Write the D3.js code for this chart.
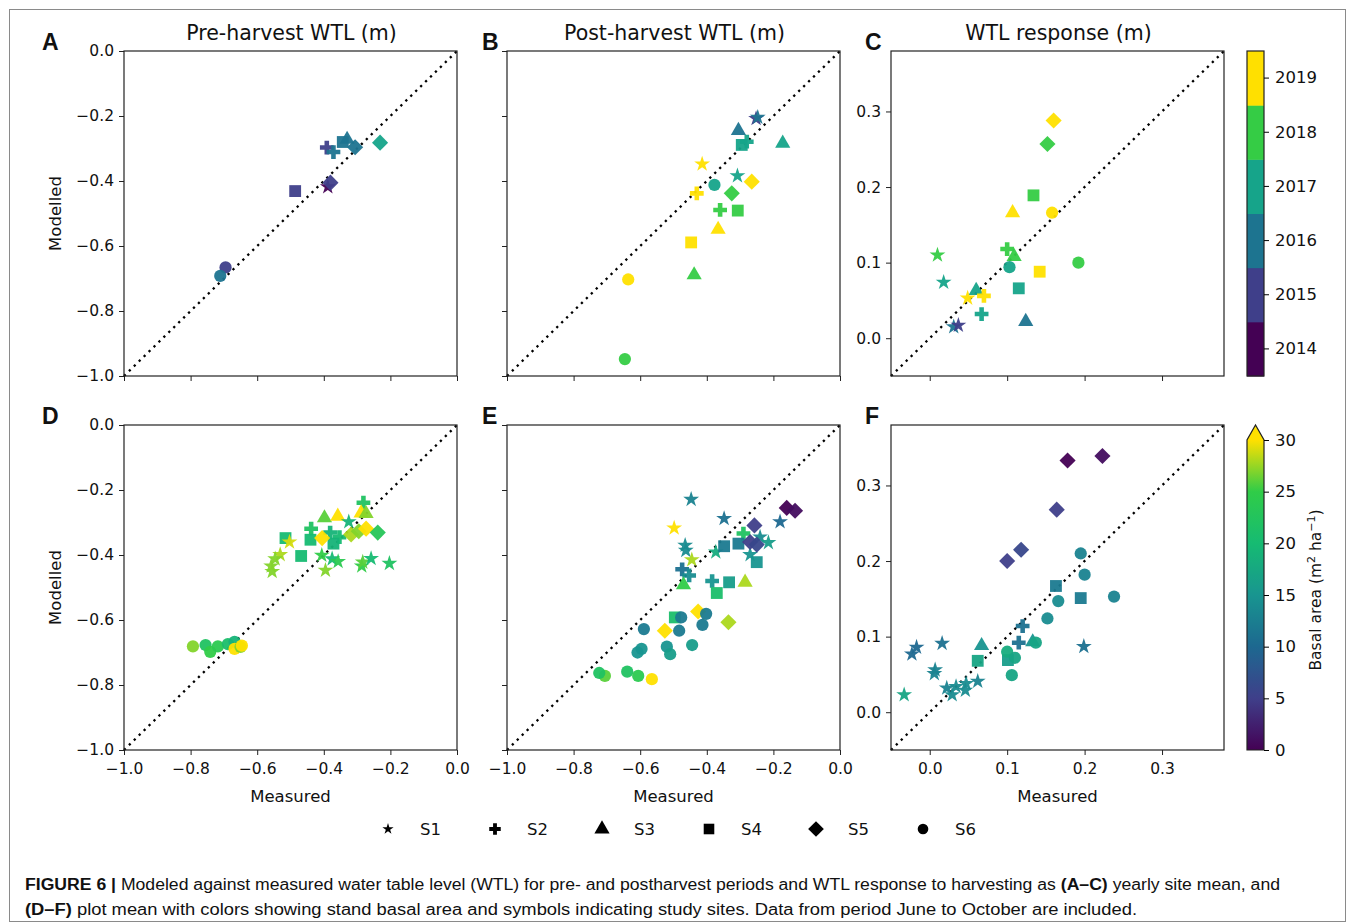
<!DOCTYPE html>
<html>
<head>
<meta charset="utf-8">
<script src="https://cdn.jsdelivr.net/npm/d3@7"></script>
<style>
  body { margin: 0; background: #fff; }
  text { font-family: "DejaVu Sans", sans-serif; fill: #111; }
</style>
</head>
<body>
<script>
// measured, modelled, site (1-6), year
panelA = [
  [-0.231, -0.282, 5, 2017], [-0.306, -0.296, 5, 2016], [-0.330, -0.272, 3, 2016],
  [-0.343, -0.280, 4, 2016], [-0.391, -0.297, 2, 2015], [-0.371, -0.311, 2, 2016],
  [-0.388, -0.418, 1, 2014], [-0.380, -0.405, 5, 2015], [-0.486, -0.431, 4, 2015],
  [-0.695, -0.666, 6, 2015], [-0.711, -0.692, 6, 2016]
];
panelB = [
  [-0.252, -0.208, 1, 2015], [-0.247, -0.204, 1, 2016], [-0.305, -0.245, 3, 2016],
  [-0.280, -0.279, 2, 2017], [-0.295, -0.289, 4, 2017], [-0.172, -0.284, 3, 2017],
  [-0.414, -0.348, 1, 2019], [-0.308, -0.384, 1, 2017], [-0.377, -0.412, 6, 2017],
  [-0.265, -0.402, 5, 2019], [-0.430, -0.438, 2, 2019], [-0.325, -0.438, 5, 2018],
  [-0.360, -0.489, 2, 2018], [-0.307, -0.491, 4, 2018], [-0.366, -0.549, 3, 2019],
  [-0.447, -0.589, 4, 2019], [-0.438, -0.689, 3, 2018], [-0.636, -0.703, 6, 2019],
  [-0.646, -0.948, 6, 2018]
];
panelC = [
  [0.160, 0.288, 5, 2019], [0.152, 0.257, 5, 2018], [0.134, 0.189, 4, 2018],
  [0.107, 0.166, 3, 2019], [0.158, 0.166, 6, 2019], [0.100, 0.118, 2, 2018],
  [0.109, 0.108, 3, 2018], [0.103, 0.094, 6, 2017], [0.192, 0.100, 6, 2018],
  [0.142, 0.088, 4, 2019], [0.115, 0.066, 4, 2017], [0.010, 0.110, 1, 2018],
  [0.018, 0.074, 1, 2017], [0.060, 0.063, 3, 2017], [0.070, 0.056, 2, 2019],
  [0.049, 0.053, 1, 2019], [0.067, 0.032, 2, 2017], [0.124, 0.022, 3, 2016],
  [0.031, 0.015, 1, 2016], [0.037, 0.017, 1, 2015]
];
// measured, modelled, site (1-6), basal area
panelD = [
  [-0.793, -0.681, 6, 27], [-0.755, -0.677, 6, 22], [-0.741, -0.698, 6, 25],
  [-0.718, -0.681, 6, 24], [-0.688, -0.674, 6, 21], [-0.668, -0.667, 6, 19],
  [-0.668, -0.689, 6, 30], [-0.650, -0.683, 6, 27], [-0.646, -0.679, 6, 30],
  [-0.281, -0.239, 2, 22], [-0.398, -0.286, 3, 26], [-0.358, -0.281, 3, 30],
  [-0.288, -0.271, 3, 30], [-0.273, -0.273, 3, 27], [-0.325, -0.298, 1, 19],
  [-0.438, -0.319, 2, 22], [-0.381, -0.331, 2, 19], [-0.353, -0.345, 2, 20],
  [-0.515, -0.348, 4, 20], [-0.440, -0.353, 4, 20], [-0.371, -0.365, 4, 19],
  [-0.468, -0.403, 4, 20], [-0.405, -0.348, 5, 30], [-0.318, -0.337, 5, 28],
  [-0.295, -0.327, 5, 27], [-0.273, -0.319, 5, 30], [-0.238, -0.331, 5, 23],
  [-0.503, -0.360, 1, 29], [-0.531, -0.399, 1, 28], [-0.546, -0.412, 1, 27],
  [-0.558, -0.434, 1, 27], [-0.555, -0.451, 1, 27], [-0.406, -0.401, 1, 25],
  [-0.395, -0.447, 1, 27], [-0.375, -0.412, 1, 20], [-0.357, -0.420, 1, 24],
  [-0.286, -0.434, 1, 25], [-0.283, -0.422, 1, 26], [-0.258, -0.411, 1, 20],
  [-0.203, -0.426, 1, 22]
];
panelE = [
  [-0.160, -0.255, 5, 0], [-0.135, -0.264, 5, 1], [-0.257, -0.309, 5, 5],
  [-0.447, -0.229, 1, 13], [-0.348, -0.288, 1, 11], [-0.180, -0.298, 1, 10],
  [-0.498, -0.317, 1, 30], [-0.465, -0.370, 1, 14], [-0.463, -0.386, 1, 14],
  [-0.445, -0.415, 1, 28], [-0.373, -0.391, 1, 18], [-0.240, -0.345, 1, 14],
  [-0.215, -0.362, 1, 16], [-0.270, -0.399, 1, 15], [-0.474, -0.444, 2, 11],
  [-0.453, -0.463, 2, 14], [-0.384, -0.480, 2, 15], [-0.290, -0.334, 2, 22],
  [-0.348, -0.373, 4, 12], [-0.305, -0.365, 4, 12], [-0.250, -0.422, 4, 15],
  [-0.333, -0.484, 4, 16], [-0.370, -0.517, 4, 21], [-0.496, -0.592, 4, 21],
  [-0.270, -0.360, 5, 5], [-0.250, -0.368, 5, 6],
  [-0.470, -0.492, 3, 25], [-0.285, -0.484, 3, 28], [-0.426, -0.574, 5, 30],
  [-0.526, -0.633, 5, 30], [-0.335, -0.607, 5, 28], [-0.477, -0.592, 6, 12],
  [-0.402, -0.581, 6, 12], [-0.589, -0.628, 6, 12], [-0.483, -0.633, 6, 12],
  [-0.413, -0.615, 6, 12], [-0.596, -0.689, 6, 15], [-0.608, -0.700, 6, 15],
  [-0.520, -0.682, 6, 15], [-0.510, -0.705, 6, 16], [-0.444, -0.677, 6, 16],
  [-0.706, -0.772, 6, 26], [-0.723, -0.763, 6, 22], [-0.639, -0.759, 6, 22],
  [-0.606, -0.772, 6, 24], [-0.565, -0.782, 6, 30]
];
panelF = [
  [0.178, 0.333, 5, 0], [0.223, 0.339, 5, 1], [0.164, 0.268, 5, 5],
  [0.118, 0.215, 5, 6], [0.100, 0.200, 5, 5], [0.195, 0.210, 6, 13],
  [0.200, 0.182, 6, 13], [0.166, 0.147, 6, 14], [0.238, 0.153, 6, 13],
  [0.152, 0.124, 6, 14], [0.163, 0.167, 4, 12], [0.195, 0.151, 4, 12],
  [0.120, 0.114, 2, 11], [0.115, 0.092, 2, 11], [0.067, 0.088, 3, 15],
  [0.133, 0.093, 3, 15], [0.062, 0.068, 4, 17], [0.101, 0.069, 4, 16],
  [0.137, 0.092, 6, 17], [0.100, 0.080, 6, 18], [0.110, 0.072, 6, 17],
  [0.106, 0.049, 6, 17], [-0.023, 0.077, 1, 10], [-0.017, 0.086, 1, 10],
  [0.016, 0.091, 1, 11], [0.007, 0.056, 1, 13], [0.006, 0.051, 1, 13],
  [-0.033, 0.023, 1, 17], [0.022, 0.032, 1, 13], [0.029, 0.023, 1, 14],
  [0.034, 0.034, 1, 14], [0.046, 0.029, 1, 14], [0.047, 0.038, 1, 14],
  [0.062, 0.041, 1, 13], [0.199, 0.087, 1, 11]
];

years = [2014, 2015, 2016, 2017, 2018, 2019];
yearColors = ["#440154", "#3f3f8a", "#1d7490", "#16a48a", "#35cc45", "#ffe000"];
basalTicks = [0, 5, 10, 15, 20, 25, 30];
basalColors = ["#440154", "#3f3f8a", "#1d6890", "#189590", "#16bb72", "#30cc48", "#ffe000"];
sites = ["S1", "S2", "S3", "S4", "S5", "S6"];
titles = ["Pre-harvest WTL (m)", "Post-harvest WTL (m)", "WTL response (m)"];
wtlTicks = [-1.0, -0.8, -0.6, -0.4, -0.2, 0.0];
respTicks = [0.0, 0.1, 0.2, 0.3];

w = 1355;
h = 924;

svg = d3.select("body").append("svg")
  .attr("width", w)
  .attr("height", h);

svg.append("rect")
  .attr("x", 9.5).attr("y", 9.5)
  .attr("width", 1336).attr("height", 912)
  .attr("fill", "none").attr("stroke", "#8a8a8a");

yearColor = d3.scaleOrdinal().domain(years).range(yearColors);
basalColor = d3.scaleLinear().domain(basalTicks).range(basalColors).clamp(true);

colLeft = [124, 507, 891];
letterX = [42, 482, 865];
rowTop = [51, 425];
pw = 333;
ph = 325;
fmt = d3.format(".1f");

// symbol for each site (diamond = rotated square, like matplotlib "D")
function symbolPath(site, k) {
  var types = [d3.symbolStar, d3.symbolCross, d3.symbolTriangle, d3.symbolSquare, d3.symbolSquare, d3.symbolCircle];
  var sizes = [78, 105, 100, 140, 130, 118];
  return d3.symbol().type(types[site - 1]).size(sizes[site - 1] * k)();
}

panels = [
  {data: panelA, col: 0, row: 0, dom: [-1, 0], ticks: wtlTicks, color: yearColor, letter: "A", ylab: true, xlab: false},
  {data: panelB, col: 1, row: 0, dom: [-1, 0], ticks: wtlTicks, color: yearColor, letter: "B", ylab: false, xlab: false},
  {data: panelC, col: 2, row: 0, dom: [-0.05, 0.38], ticks: respTicks, color: yearColor, letter: "C", ylab: true, xlab: false},
  {data: panelD, col: 0, row: 1, dom: [-1, 0], ticks: wtlTicks, color: basalColor, letter: "D", ylab: true, xlab: true},
  {data: panelE, col: 1, row: 1, dom: [-1, 0], ticks: wtlTicks, color: basalColor, letter: "E", ylab: false, xlab: true},
  {data: panelF, col: 2, row: 1, dom: [-0.05, 0.38], ticks: respTicks, color: basalColor, letter: "F", ylab: true, xlab: true}
];

panels.forEach(function(p) {
  var x0 = colLeft[p.col], y0 = rowTop[p.row];
  var x = d3.scaleLinear().domain(p.dom).range([x0, x0 + pw]);
  var y = d3.scaleLinear().domain(p.dom).range([y0 + ph, y0]);
  var g = svg.append("g");

  var ya = g.append("g")
    .attr("transform", "translate(" + x0 + ",0)")
    .call(d3.axisLeft(y).tickValues(p.ticks).tickSize(5).tickPadding(5)
      .tickFormat(p.ylab ? fmt : ""));
  var xa = g.append("g")
    .attr("transform", "translate(0," + (y0 + ph) + ")")
    .call(d3.axisBottom(x).tickValues(p.ticks).tickSize(5).tickPadding(8)
      .tickFormat(p.xlab ? fmt : ""));
  [ya, xa].forEach(function(a) {
    a.select(".domain").remove();
    a.selectAll("line").attr("stroke", "#222");
    a.selectAll("text").style("font-size", "15.5px").style("font-family", "DejaVu Sans").attr("fill", "#111");
  });

  // 1:1 line
  g.append("line")
    .attr("x1", x(p.dom[0])).attr("y1", y(p.dom[0]))
    .attr("x2", x(p.dom[1])).attr("y2", y(p.dom[1]))
    .attr("stroke", "#000").attr("stroke-width", 2.3)
    .attr("stroke-dasharray", "2.3 4.6");

  g.selectAll("path.pt")
    .data(p.data)
    .enter()
    .append("path")
      .attr("class", "pt")
      .attr("d", (d) => symbolPath(d[2], 1))
      .attr("transform", (d) => "translate(" + x(d[0]) + "," + y(d[1]) + ")" + (d[2] == 5 ? " rotate(45)" : ""))
      .attr("fill", (d) => p.color(d[3]))
      .attr("opacity", 0.95);

  g.append("rect")
    .attr("x", x0).attr("y", y0).attr("width", pw).attr("height", ph)
    .attr("fill", "none").attr("stroke", "#222").attr("stroke-width", 1.2);

  svg.append("text")
    .attr("x", letterX[p.col]).attr("y", y0 - 1)
    .style("font-family", "Liberation Sans, Arial, sans-serif")
    .style("font-weight", "bold").style("font-size", "23px")
    .text(p.letter);

  if (p.row == 0) {
    svg.append("text")
      .attr("x", x0 + pw / 2 + 1).attr("y", y0 - 11)
      .attr("text-anchor", "middle").style("font-size", "20.5px")
      .text(titles[p.col]);
  } else {
    svg.append("text")
      .attr("x", x0 + pw / 2).attr("y", y0 + ph + 52)
      .attr("text-anchor", "middle").style("font-size", "16.5px")
      .text("Measured");
  }
  if (p.col == 0) {
    svg.append("text")
      .attr("transform", "translate(61," + (y0 + ph / 2) + ") rotate(-90)")
      .attr("text-anchor", "middle").style("font-size", "16.5px")
      .text("Modelled");
  }
});

// year colorbar (discrete)
cbX = 1247;
cbW = 17;
yc = d3.scaleBand().domain(years.slice().reverse()).range([51, 376]);
cb1 = svg.append("g");
cb1.selectAll("rect.c")
  .data(years)
  .enter()
  .append("rect")
    .attr("x", cbX).attr("y", (d) => yc(d))
    .attr("width", cbW).attr("height", yc.bandwidth() + 0.5)
    .attr("fill", (d) => yearColor(d));
cb1.append("rect").attr("x", cbX).attr("y", 51).attr("width", cbW).attr("height", 325)
  .attr("fill", "none").attr("stroke", "#222").attr("stroke-width", 1.2);
cb1.append("g")
  .attr("transform", "translate(" + (cbX + cbW) + ",0)")
  .call(d3.axisRight(yc).tickSize(5).tickPadding(6))
  .call((a) => a.select(".domain").remove())
  .call((a) => a.selectAll("text").style("font-size", "16.5px").style("font-family", "DejaVu Sans").attr("fill", "#111"));

// basal area colorbar (continuous, extend max)
yb = d3.scaleLinear().domain([0, 30]).range([750, 440]);
defs = svg.append("defs");
grad = defs.append("linearGradient").attr("id", "bgrad")
  .attr("x1", 0).attr("y1", 1).attr("x2", 0).attr("y2", 0);
d3.range(0, 31, 1).forEach(function(v) {
  grad.append("stop").attr("offset", v / 30).attr("stop-color", basalColor(v));
});
cb2 = svg.append("g");
cb2.append("rect").attr("x", cbX).attr("y", yb(30)).attr("width", cbW).attr("height", yb(0) - yb(30))
  .attr("fill", "url(#bgrad)");
cb2.append("path")
  .attr("d", "M" + cbX + "," + yb(30) + "L" + (cbX + cbW / 2) + "," + (yb(30) - 15) + "L" + (cbX + cbW) + "," + yb(30) + "Z")
  .attr("fill", basalColor(30));
cb2.append("path")
  .attr("d", "M" + cbX + "," + yb(0) + "L" + cbX + "," + yb(30) + "L" + (cbX + cbW / 2) + "," + (yb(30) - 15) +
    "L" + (cbX + cbW) + "," + yb(30) + "L" + (cbX + cbW) + "," + yb(0) + "Z")
  .attr("fill", "none").attr("stroke", "#222").attr("stroke-width", 1.2);
cb2.append("g")
  .attr("transform", "translate(" + (cbX + cbW) + ",0)")
  .call(d3.axisRight(yb).tickValues(basalTicks).tickSize(5).tickPadding(6).tickFormat(d3.format("d")))
  .call((a) => a.select(".domain").remove())
  .call((a) => a.selectAll("text").style("font-size", "16.5px").style("font-family", "DejaVu Sans").attr("fill", "#111"));
bl = svg.append("text")
  .attr("transform", "translate(1321,590) rotate(-90)")
  .attr("text-anchor", "middle").style("font-size", "15.5px");
bl.append("tspan").text("Basal area (m");
bl.append("tspan").attr("dy", -6).style("font-size", "11px").text("2");
bl.append("tspan").attr("dy", 6).text(" ha");
bl.append("tspan").attr("dy", -6).style("font-size", "11px").text("\u22121");
bl.append("tspan").attr("dy", 6).text(")");

// site legend
legX = [388, 495, 602, 709, 816, 923];
leg = svg.append("g");
leg.selectAll("path.l")
  .data(sites)
  .enter()
  .append("path")
    .attr("d", (d, i) => symbolPath(i + 1, [0.5, 0.7, 1.0, 0.8, 0.95, 0.75][i]))
    .attr("transform", (d, i) => "translate(" + legX[i] + ",829)" + (i == 4 ? " rotate(45)" : ""))
    .attr("fill", "#000");
leg.selectAll("text.l")
  .data(sites)
  .enter()
  .append("text")
    .attr("x", (d, i) => legX[i] + 32).attr("y", 835)
    .style("font-size", "16.5px")
    .text((d) => d);

// caption
capFont = "'Liberation Sans Narrow', 'Arial Narrow', 'Liberation Sans', Arial, sans-serif";
c1 = svg.append("text").attr("x", 25).attr("y", 890)
  .attr("textLength", 1255).attr("lengthAdjust", "spacingAndGlyphs")
  .style("font-family", capFont).style("font-size", "16px").attr("fill", "#222");
c1.append("tspan").style("font-weight", "bold").text("FIGURE 6 | ");
c1.append("tspan").text("Modeled against measured water table level (WTL) for pre- and postharvest periods and WTL response to harvesting as ");
c1.append("tspan").style("font-weight", "bold").text("(A\u2013C)");
c1.append("tspan").text(" yearly site mean, and");
c2 = svg.append("text").attr("x", 25).attr("y", 915)
  .attr("textLength", 1112).attr("lengthAdjust", "spacingAndGlyphs")
  .style("font-family", capFont).style("font-size", "16px").attr("fill", "#222");
c2.append("tspan").style("font-weight", "bold").text("(D\u2013F)");
c2.append("tspan").text(" plot mean with colors showing stand basal area and symbols indicating study sites. Data from period June to October are included.");
</script>
</body>
</html>
